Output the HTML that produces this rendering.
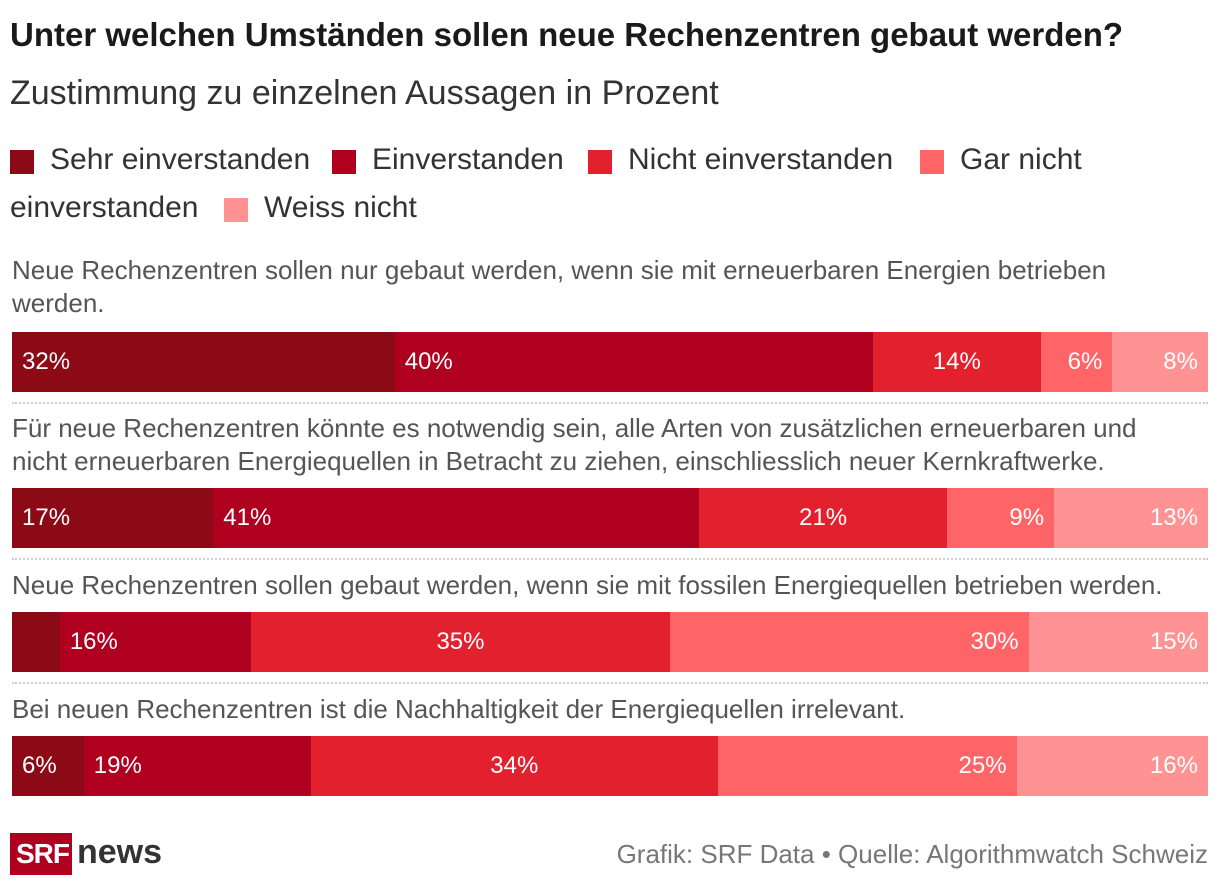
<!DOCTYPE html>
<html><head><meta charset="utf-8">
<style>
body{margin:0;width:1220px;height:886px;background:#fff;font-family:"Liberation Sans",sans-serif;position:relative;overflow:hidden;color:#222}
.abs{position:absolute;white-space:nowrap}
.title{left:10px;top:16px;font-size:33px;font-weight:bold;color:#1a1a1a}
.sub{left:10px;top:74px;font-size:34px;color:#333}
.leg{font-size:30px;color:#333}
.sw{width:24px;height:24px;position:absolute}
.q{left:12px;font-size:26px;color:#555;line-height:33px}
.sep{left:12px;width:1196px;border-top:2px dotted #ccc;height:0}
.seg{position:absolute;top:0;height:60px;color:#fff;font-size:24px;line-height:60px;box-sizing:border-box;padding:0 10px;overflow:visible;white-space:nowrap}
.bar{position:absolute;left:12px;width:1196px;height:60px}
</style></head><body>
<div class="abs title">Unter welchen Umständen sollen neue Rechenzentren gebaut werden?</div>
<div class="abs sub">Zustimmung zu einzelnen Aussagen in Prozent</div>

<div>
<div class="sw" style="left:10px;top:150px;background:#8c0a16"></div>
<div class="abs leg" style="left:50px;top:143px">Sehr einverstanden</div>
<div class="sw" style="left:332px;top:150px;background:#b0001f"></div>
<div class="abs leg" style="left:372px;top:143px">Einverstanden</div>
<div class="sw" style="left:588px;top:150px;background:#e3202e"></div>
<div class="abs leg" style="left:628px;top:143px">Nicht einverstanden</div>
<div class="sw" style="left:920px;top:150px;background:#ff6466"></div>
<div class="abs leg" style="left:960px;top:143px">Gar nicht</div>
<div class="abs leg" style="left:10px;top:191px">einverstanden</div>
<div class="sw" style="left:224px;top:198px;background:#ff9393"></div>
<div class="abs leg" style="left:264px;top:191px">Weiss nicht</div>
</div>

<div id="chart"></div>

<div class="abs" style="left:10px;top:833px;width:62px;height:42px;background:#af0020">
<span style="position:absolute;left:6px;top:5px;color:#fff;font-weight:bold;font-size:28px;letter-spacing:-1px">SRF</span></div>
<div class="abs" style="left:77px;top:833px;font-weight:bold;font-size:34px;color:#333">news</div>
<div class="abs" style="right:12px;top:839px;font-size:26px;color:#777">Grafik: SRF Data • Quelle: Algorithmwatch Schweiz</div>

<script>
const questions=[["Neue Rechenzentren sollen nur gebaut werden, wenn sie mit erneuerbaren Energien betrieben","werden."],["Für neue Rechenzentren könnte es notwendig sein, alle Arten von zusätzlichen erneuerbaren und","nicht erneuerbaren Energiequellen in Betracht zu ziehen, einschliesslich neuer Kernkraftwerke."],["Neue Rechenzentren sollen gebaut werden, wenn sie mit fossilen Energiequellen betrieben werden."],["Bei neuen Rechenzentren ist die Nachhaltigkeit der Energiequellen irrelevant."]];
const sehr=[32,17,4,6];
const einv=[40,41,16,19];
const nicht=[14,21,35,34];
const garNicht=[6,9,30,25];
const weissNicht=[8,13,15,16];
const showLabel=[[true,true,true,true,true],[true,true,true,true,true],[false,true,true,true,true],[true,true,true,true,true]];
const colors=["#8c0a16","#b0001f","#e3202e","#ff6466","#ff9393"];
const segNames=["sehr","einverstanden","nicht","gar-nicht","weiss-nicht"];
const align=["left","left","center","right","right"];
const qTops=[254,412,569,693];
const barTops=[332,488,612,736];
const sepTops=[402,558,682];
const W=1196;
const chart=document.getElementById('chart');
questions.forEach((q,i)=>{
  const t=document.createElement('div');
  t.className='abs q';t.style.top=qTops[i]+'px';t.innerHTML=q.join('<br>');
  
  
  chart.appendChild(t);
  const bar=document.createElement('div');
  bar.className='bar';bar.style.top=barTops[i]+'px';
  
  
  const vals=[sehr[i],einv[i],nicht[i],garNicht[i],weissNicht[i]];
  const tot=vals.reduce((a,b)=>a+b,0);
  let x=0;
  vals.forEach((v,j)=>{
    const w=v/tot*W;
    const s=document.createElement('div');
    s.className='seg';
    s.style.left=x+'px';s.style.width=w+'px';s.style.background=colors[j];s.style.textAlign=align[j];
    if(showLabel[i][j]) s.textContent=v+'%';
    
    
    bar.appendChild(s);
    x+=w;
  });
  chart.appendChild(bar);
});
sepTops.forEach(y=>{
  const d=document.createElement('div');
  d.className='abs sep';d.style.top=y+'px';
  
  
  chart.appendChild(d);
});
</script>
</body></html>
